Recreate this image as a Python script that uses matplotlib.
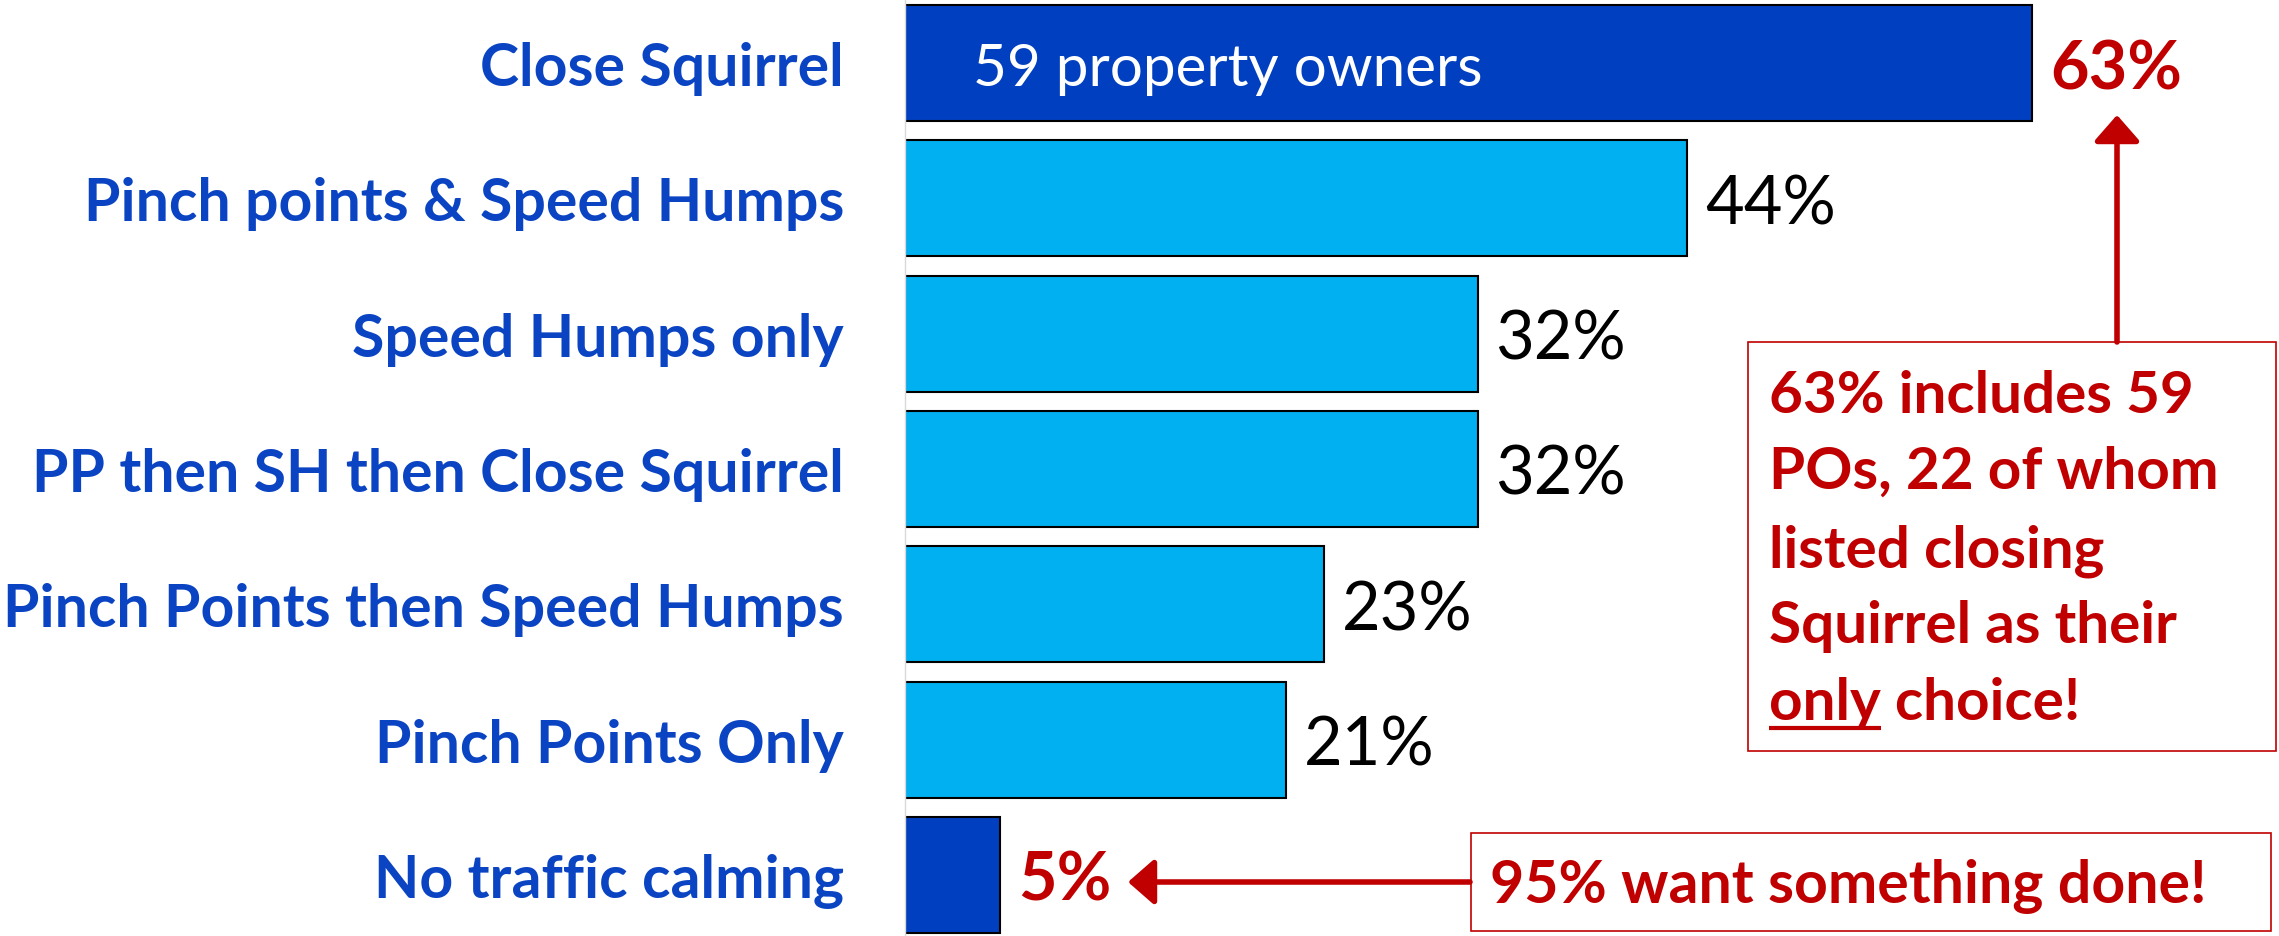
"""Horizontal bar chart of traffic calming preferences."""

import matplotlib

matplotlib.use("Agg")
import matplotlib.pyplot as plt
from matplotlib.lines import Line2D
from matplotlib.patches import FancyArrowPatch, Rectangle

plt.rcParams["font.family"] = ["Lato", "DejaVu Sans"]

categories = [
    "Close Squirrel",
    "Pinch points & Speed Humps",
    "Speed Humps only",
    "PP then SH then Close Squirrel",
    "Pinch Points then Speed Humps",
    "Pinch Points Only",
    "No traffic calming",
]
# bar lengths (labels show them rounded)
values = [63.0, 43.7, 32.0, 32.0, 23.4, 21.3, 5.3]
highlight = [True, False, False, False, False, False, True]
owners_note = "59 property owners"
box_lines = ["63% includes 59", "POs, 22 of whom", "listed closing", "Squirrel as their"]
box_last = ("only", " choice!")
bottom_note = "95% want something done!"

DARK = "#0040C0"
LIGHT = "#00B0F0"
RED = "#C00000"
LABEL_BLUE = "#0A44C2"

W, H = 2279, 937
fig = plt.figure(figsize=(W / 100, H / 100), dpi=100)


def px(x, y):
    # pixel position (from top-left) -> figure fraction
    return x / W, 1 - y / H


ax = fig.add_axes([905 / W, 0, (W - 905) / W, 1])
ypos = list(range(len(categories)))
colors = [DARK if h else LIGHT for h in highlight]
ax.barh(ypos, values, height=0.857, color=colors, edgecolor="black", linewidth=1.5)
ax.set_xlim(0, 76.8)
ax.set_ylim(6.452, -0.473)

ax.set_yticks(ypos)
ax.set_yticklabels(categories, fontsize=42.5, fontweight="bold", color=LABEL_BLUE)
ax.tick_params(axis="y", length=0, pad=44)
ax.set_xticks([])
for side in ["top", "right", "bottom"]:
    ax.spines[side].set_visible(False)
ax.spines["left"].set_color("#D9D9D9")
ax.spines["left"].set_linewidth(1)

# value labels
for i, v in enumerate(values):
    if highlight[i]:
        ax.text(v + 1.0, i, f"{v:.0f}%", fontsize=48, fontweight="bold", color=RED,
                va="center_baseline", ha="left")
    else:
        ax.text(v + 1.0, i, f"{v:.0f}%", fontsize=48, color="black",
                va="center_baseline", ha="left")

ax.text(3.8, 0, owners_note, fontsize=42, color="white", va="center_baseline", ha="left")

# annotation box on the right
bx0, by0 = px(1748, 752)
bx1, by1 = px(2276, 343)
fig.add_artist(Rectangle((bx0, by0), bx1 - bx0, by1 - by0, transform=fig.transFigure,
                         fill=False, edgecolor=RED, linewidth=1.2))
baselines = [413, 489, 567, 643, 720]
for line, base in zip(box_lines, baselines):
    fig.text(*px(1769, base), line, fontsize=42, fontweight="bold", color=RED,
             va="baseline", ha="left")
fig.text(*px(1769, baselines[-1]), box_last[0] + box_last[1], fontsize=42,
         fontweight="bold", color=RED, va="baseline", ha="left")

# underline the word "only"
renderer = fig.canvas.get_renderer()
probe = fig.text(*px(1769, baselines[-1]), box_last[0], fontsize=42,
                 fontweight="bold", va="baseline", ha="left", alpha=0)
ext = probe.get_window_extent(renderer)
probe.remove()
uy = 1 - (baselines[-1] + 9) / H
fig.add_artist(Line2D([ext.x0 / W, ext.x1 / W], [uy, uy], transform=fig.transFigure,
                      color=RED, linewidth=3, solid_capstyle="butt"))

# bottom box
cx0, cy0 = px(1471, 932)
cx1, cy1 = px(2271, 834)
fig.add_artist(Rectangle((cx0, cy0), cx1 - cx0, cy1 - cy0, transform=fig.transFigure,
                         fill=False, edgecolor=RED, linewidth=1.2))
fig.text(*px(1490, 903), bottom_note, fontsize=42.5, fontweight="bold", color=RED,
         va="baseline", ha="left")

# arrows
arrow_style = "-|>,head_length=16,head_width=14"
fig.add_artist(FancyArrowPatch(px(2117, 343), px(2117, 116), transform=fig.transFigure,
                               arrowstyle=arrow_style, mutation_scale=1, color=RED,
                               linewidth=4, shrinkA=0, shrinkB=0))
fig.add_artist(FancyArrowPatch(px(1470, 883), px(1128, 883), transform=fig.transFigure,
                               arrowstyle=arrow_style, mutation_scale=1, color=RED,
                               linewidth=4, shrinkA=0, shrinkB=0))

fig.savefig("out.png", dpi=100, facecolor="white")
